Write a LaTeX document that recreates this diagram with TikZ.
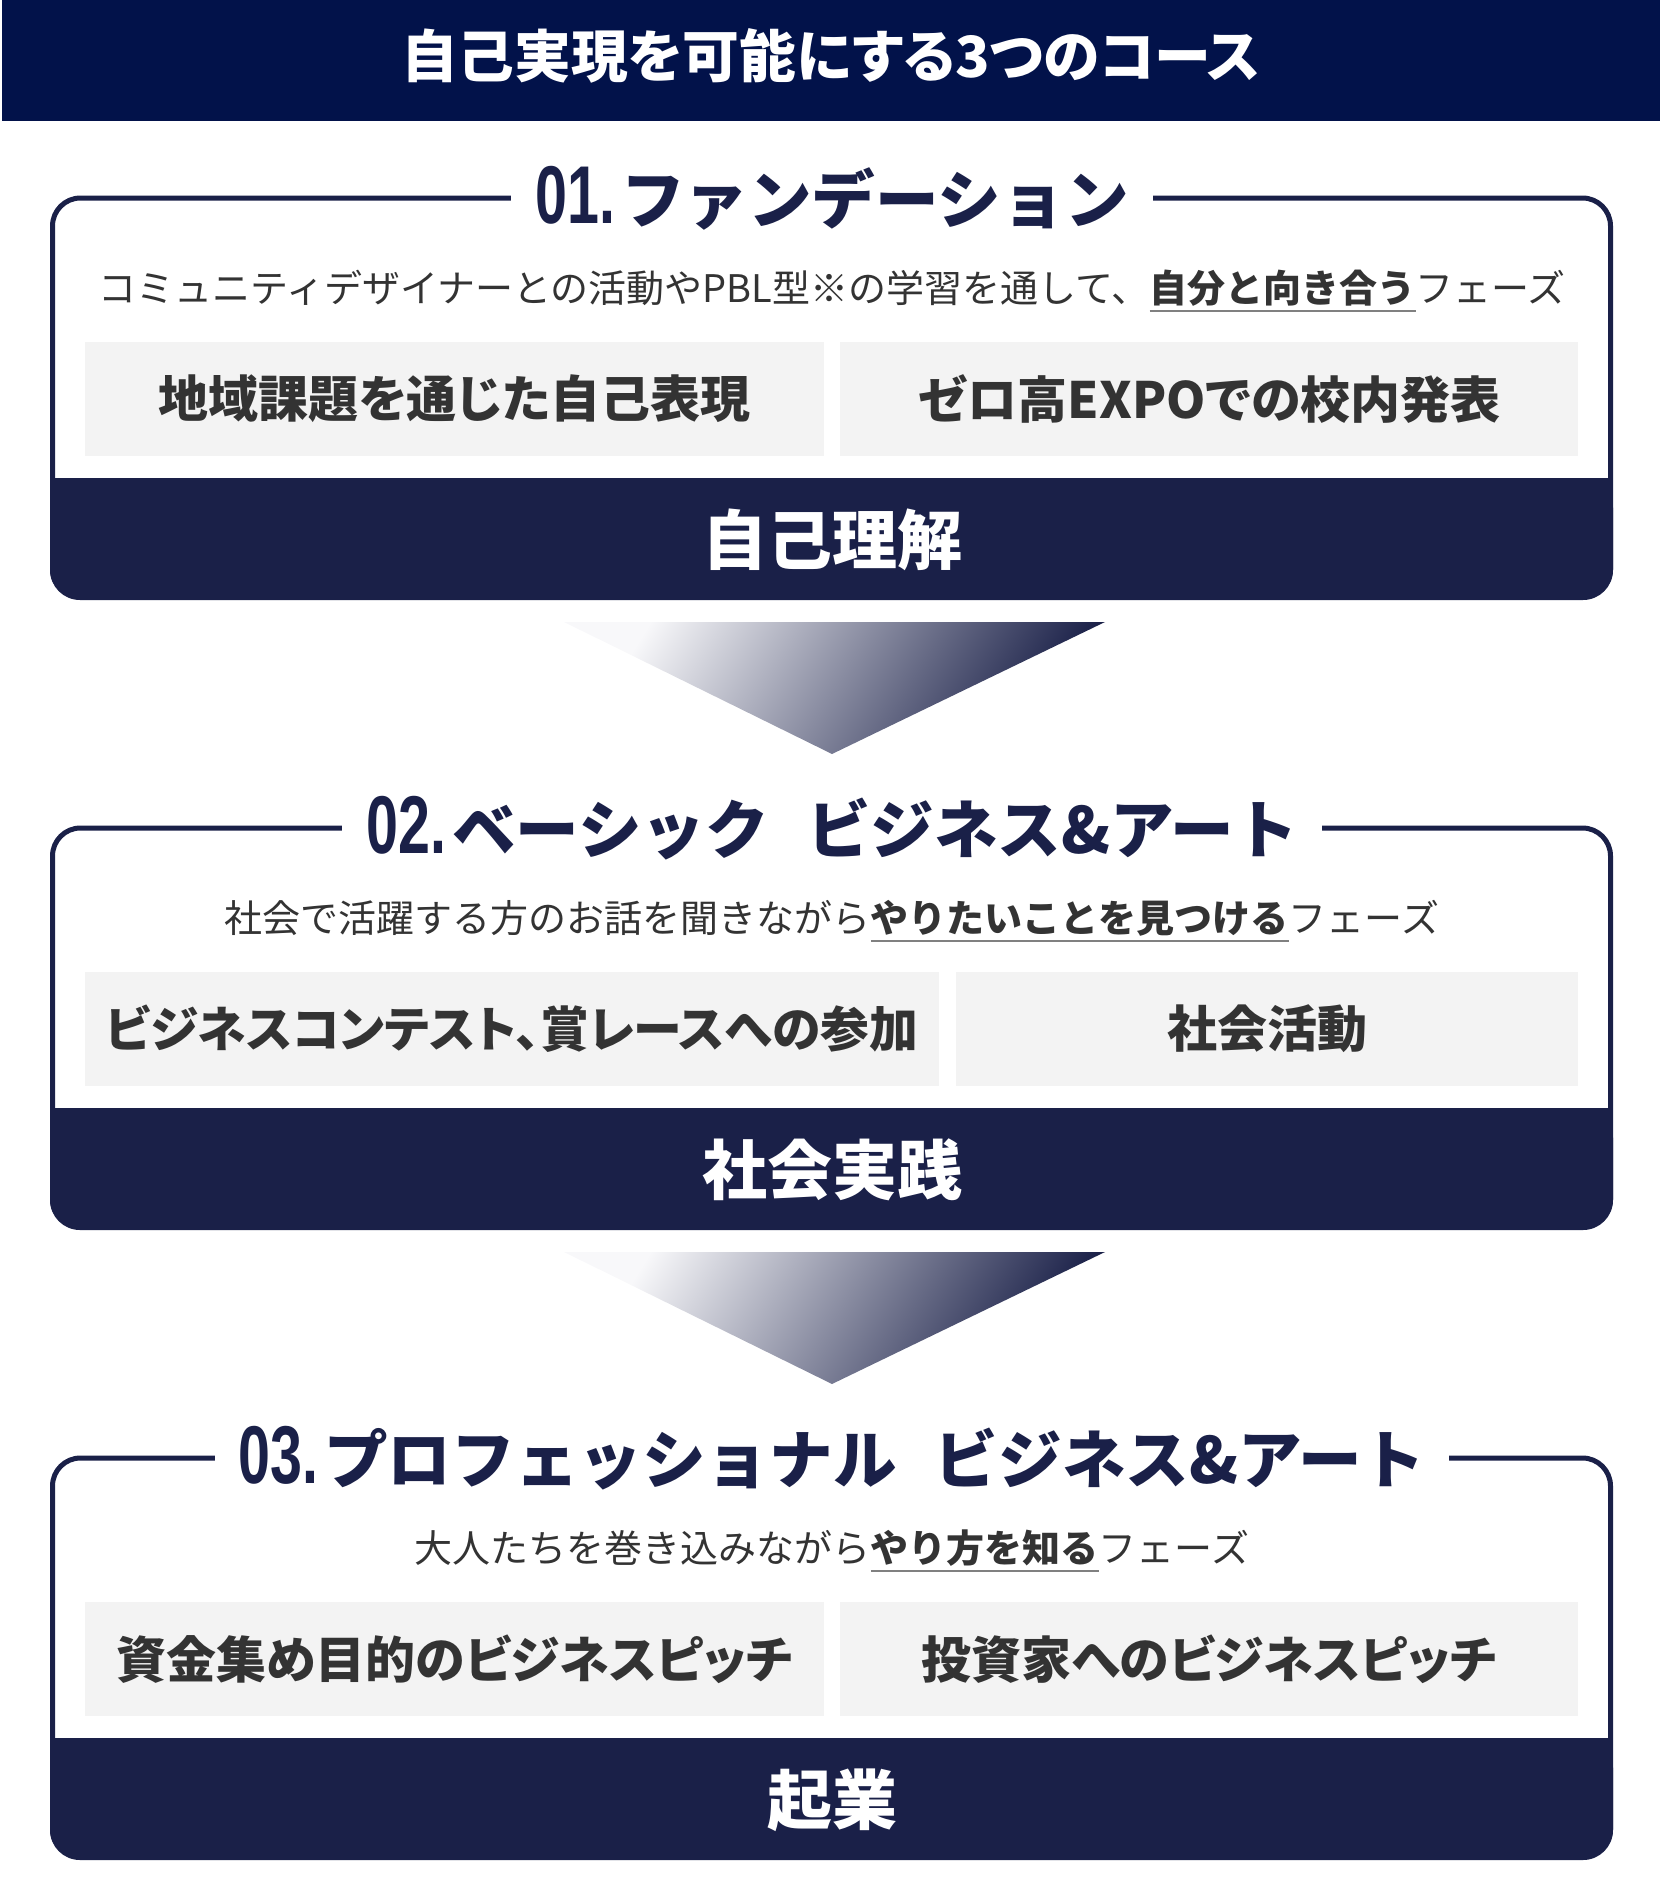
\documentclass[tikz,border=0pt]{standalone}
\usepackage{fontspec}
\setmainfont{Noto Sans CJK JP}[RawFeature=+palt]
\newfontfamily\jpm{Noto Sans CJK JP}
\newfontfamily\dinf{Liberation Sans}[FakeStretch=0.7]
\definecolor{hdr}{HTML}{02124A}
\definecolor{band}{HTML}{1A2048}
\definecolor{gbox}{HTML}{F3F3F3}
\definecolor{txt}{HTML}{333333}
\definecolor{ulg}{HTML}{808080}
\definecolor{lite}{HTML}{F8F8FA}
\newcommand\ulx[1]{\setbox0\hbox{#1}\rlap{\color{ulg}\rule[-5pt]{\wd0}{1.3pt}}\box0}
\tikzset{
  boxline/.style={draw=band, line width=2.5pt, rounded corners=14pt},
  gbx/.style={fill=gbox, inner sep=0pt, minimum height=57pt, text=txt,
     font=\fontsize{25}{30}\selectfont\bfseries},
  ttl/.style={fill=white, inner xsep=12pt, inner ysep=2pt, text=band,
     font=\jpm\fontsize{31.8}{36}\selectfont\bfseries},
  subt/.style={inner sep=0pt, text=txt, font=\jpm\fontsize{19}{23}\selectfont},
  bandtxt/.style={inner sep=0pt, text=white, font=\fontsize{32.5}{38}\selectfont\bfseries},
  arr/.style={top color=lite, middle color=band!64!lite, bottom color=band, shading angle=58},
}
\newcommand\num[1]{{\dinf\fontsize{41}{44}\selectfont\bfseries #1}\hspace{3pt}}
\begin{document}
\begin{tikzpicture}[x=0.5pt,y=-0.5pt]
\useasboundingbox (0,0) rectangle (1663,1884);
% header
\fill[hdr] (2,0) rectangle (1660,121);
\node[text=white, inner sep=0pt, font=\fontsize{28.4}{33}\selectfont\bfseries] (head) at (831,56) {自己実現を可能にする3つのコース};

% ---------- box 1
\begin{scope}
\draw[boxline] (52.5,198) rectangle (1610.5,597);
\fill[band, rounded corners=15pt] (50,478) rectangle (1613,600);
\fill[band] (50,478) rectangle (1613,530);
\node[ttl] (t1) at (832,198) {\num{01.}ファンデーション};
\node[subt] (s1) at (832,291) {コミュニティデザイナーとの活動やPBL型※の学習を通して、\ulx{\bfseries 自分と向き合う}フェーズ};
\node[gbx, minimum width=369.5pt] (g11) at (454.5,399) {地域課題を通じた自己表現};
\node[gbx, minimum width=369pt] (g12) at (1209,399) {ゼロ高EXPOでの校内発表};
\node[bandtxt] (b1) at (832,540) {自己理解};
\end{scope}

% arrow 1
\shade[arr] (564,622) -- (1105,622) -- (832,754) -- cycle;

% ---------- box 2
\begin{scope}[shift={(0,630)}]
\draw[boxline] (52.5,198) rectangle (1610.5,597);
\fill[band, rounded corners=15pt] (50,478) rectangle (1613,600);
\fill[band] (50,478) rectangle (1613,530);
\node[ttl] (t2) at (832,198) {\num{02.}ベーシック\hspace{0.6em}ビジネス\&アート};
\node[subt] (s2) at (832,291) {社会で活躍する方のお話を聞きながら\ulx{\bfseries やりたいことを見つける}フェーズ};
\node[gbx, minimum width=427pt, font=\fontsize{24.4}{30}\selectfont\bfseries] (g21) at (512,399) {ビジネスコンテスト、賞レースへの参加};
\node[gbx, minimum width=311pt] (g22) at (1267,399) {社会活動};
\node[bandtxt] (b2) at (832,540) {社会実践};
\end{scope}

% arrow 2
\shade[arr] (564,1252) -- (1105,1252) -- (832,1384) -- cycle;

% ---------- box 3
\begin{scope}[shift={(0,1260)}]
\draw[boxline] (52.5,198) rectangle (1610.5,597);
\fill[band, rounded corners=15pt] (50,478) rectangle (1613,600);
\fill[band] (50,478) rectangle (1613,530);
\node[ttl] (t3) at (832,198) {\num{03.}プロフェッショナル\hspace{0.6em}ビジネス\&アート};
\node[subt] (s3) at (832,291) {大人たちを巻き込みながら\ulx{\bfseries やり方を知る}フェーズ};
\node[gbx, minimum width=369.5pt] (g31) at (454.5,399) {資金集め目的のビジネスピッチ};
\node[gbx, minimum width=369pt] (g32) at (1209,399) {投資家へのビジネスピッチ};
\node[bandtxt] (b3) at (832,540) {起業};
\end{scope}
\end{tikzpicture}
\end{document}
